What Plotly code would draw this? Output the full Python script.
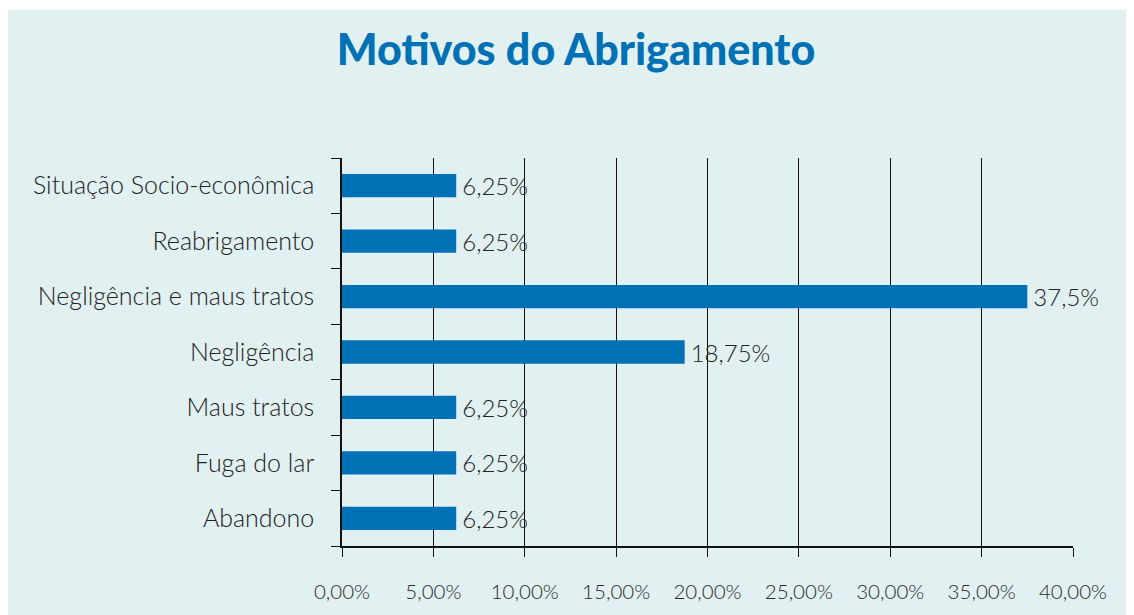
import plotly.graph_objects as go

categories = ["Abandono", "Fuga do lar", "Maus tratos", "Negligência",
              "Negligência e maus tratos", "Reabrigamento", "Situação Socio-econômica"]
values = [6.25, 6.25, 6.25, 18.75, 37.5, 6.25, 6.25]
labels = ["6,25%", "6,25%", "6,25%", "18,75%", "37,5%", "6,25%", "6,25%"]
x_ticks = [0, 5, 10, 15, 20, 25, 30, 35, 40]
x_tick_text = ["0,00%", "5,00%", "10,00%", "15,00%", "20,00%",
               "25,00%", "30,00%", "35,00%", "40,00%"]

OFF = 8  # page body margin
W, H = 1134, 615
L, T = 342 - OFF, 158 - OFF
R = W - 1073 + OFF
B = H - 546 + OFF
pw, ph = W - L - R, H - T - B

fig = go.Figure(go.Bar(
    y=categories, x=values, orientation="h",
    marker=dict(color="#0071b5", line=dict(width=0)),
    width=0.42,
    text=["\u2009" + t for t in labels], textposition="outside", cliponaxis=False,
    constraintext="none",
    textfont=dict(family="Lato", size=24, color="#222222", weight=300),
))

bg = "#e1f0f1"
fig.add_shape(type="rect", xref="paper", yref="paper", layer="below",
              x0=(-1 - L) / pw, x1=(W + 10 - L) / pw,
              y0=(T + ph - H - 10) / ph, y1=(T + ph - 2) / ph,
              fillcolor=bg, line=dict(width=0))

fig.update_layout(
    width=W, height=H,
    margin=dict(l=L, r=R, t=T, b=B),
    paper_bgcolor="white", plot_bgcolor="rgba(0,0,0,0)",
    showlegend=False,
    title=dict(text="Motivos do Abrigamento", x=(576 - OFF) / W, xanchor="center",
               y=1 - (50 - OFF) / H, yanchor="middle",
               font=dict(family="Lato", size=43, color="#0071b5", weight=900)),
    xaxis=dict(range=[0, 40], tickvals=x_ticks, ticktext=x_tick_text,
               showgrid=True, gridcolor="#111111", gridwidth=1.3,
               showline=True, linecolor="#111111", linewidth=1.5,
               ticks="outside", ticklen=9, tickcolor="#111111", tickwidth=1.3,
               zeroline=False,
               tickfont=dict(family="Lato", size=20.5, color="#2a2a2a", weight=300),
               ticklabelstandoff=18),
    yaxis=dict(categoryorder="array", categoryarray=categories,
               showline=True, linecolor="#111111", linewidth=1.5,
               ticks="outside", ticklen=9, tickcolor="#111111", tickwidth=1.3,
               tickson="boundaries", showgrid=False,
               tickfont=dict(family="Lato", size=25, color="#222222", weight=300),
               ticklabelstandoff=21),
)

fig.write_html("out.html")
